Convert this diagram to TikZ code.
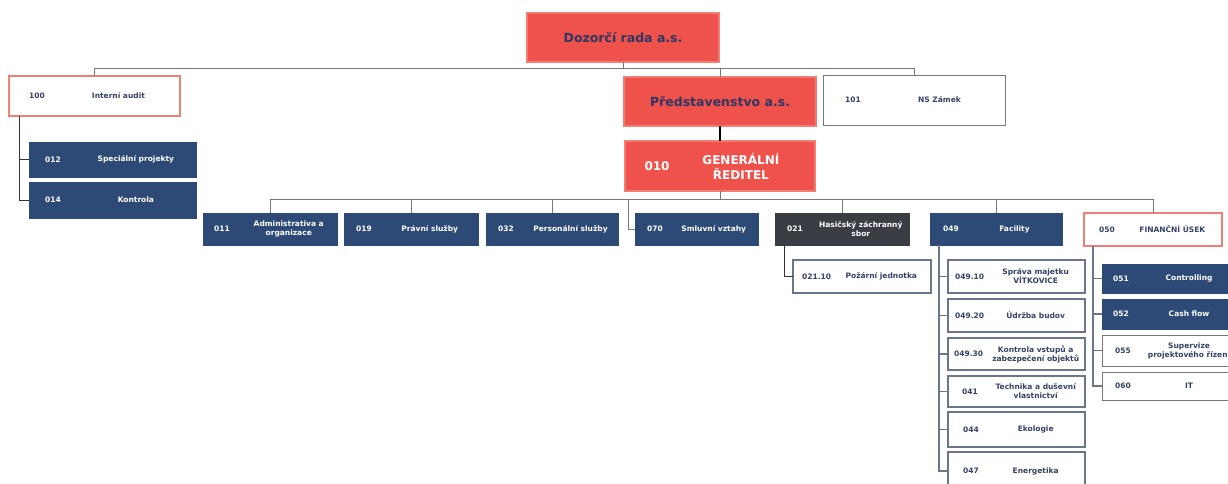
\documentclass[tikz,border=0pt]{standalone}
\usepackage{fontspec}
\setmainfont{DejaVu Sans}
\usetikzlibrary{calc}
\definecolor{cblue}{RGB}{44,74,117}
\definecolor{cgray}{RGB}{58,62,68}
\definecolor{cred}{RGB}{239,82,74}
\definecolor{credline}{RGB}{240,125,118}
\definecolor{ctext}{RGB}{52,66,100}
\definecolor{cline}{RGB}{120,120,120}
\definecolor{cbord}{RGB}{105,118,140}
\definecolor{cnavy}{RGB}{45,55,100}
\tikzset{
  base/.style={rectangle, inner sep=0pt, outer sep=0pt},
  bluebox/.style={base, fill=cblue, draw=cblue},
  bluebox text/.style={inner sep=0pt, text=white, font=\bfseries\fontsize{7.5}{9}\selectfont},
  graybox/.style={base, fill=cgray, draw=cgray},
  graybox text/.style={bluebox text},
  whitebord/.style={base, fill=white, draw=cbord, line width=1.5pt},
  whitebord text/.style={inner sep=0pt, text=ctext, font=\bfseries\fontsize{7.5}{9}\selectfont},
  whitegray/.style={base, fill=white, draw=cline, line width=1pt},
  whitegray text/.style={whitebord text},
  redwhite/.style={base, fill=white, draw=credline, line width=1.4pt},
  redwhite text/.style={whitebord text},
  redtop/.style={base, fill=cred, draw=credline, line width=1.4pt},
  toptext/.style={text=cnavy, font=\bfseries\fontsize{12.5}{14}\selectfont},
  conn/.style={draw=cline, line width=0.9pt},
  connk/.style={draw=black!80, line width=1pt},
  connb/.style={draw=cbord, line width=1.3pt},
}
\newcommand\obox[9]{%
  \node[#2, minimum width={(#5-#3)*1pt}, minimum height={(#6-#4)*1pt}] (#1) at ({(#3+#5)/2},{(#4+#6)/2}) {};
  \node[anchor=west, #2 text] (#1-num) at ([xshift=#7pt]#1.west) {#8};
  \node[#2 text, align=center] (#1-lbl) at ($(#1.west)!0.64!(#1.east)$) {#9};
}
\begin{document}
\begin{tikzpicture}[x=1pt,y=-1pt]
\clip (0,0) rectangle (1228,483);
\fill[white] (0,0) rectangle (1228,483);

% top level
\node[redtop, minimum width=192pt, minimum height=49pt] (dozor) at (623,37.5) {};
\node[toptext] (dozor-lbl) at (dozor.center) {Dozorčí rada a.s.};
\node[redtop, minimum width=192pt, minimum height=49pt] (pres) at (720,101.5) {};
\node[toptext] (pres-lbl) at (pres.center) {Představenstvo a.s.};
\node[redtop, minimum width=190pt, minimum height=50pt] (gr) at (720,166) {};
\node[anchor=west, text=white, font=\bfseries\fontsize{12}{14}\selectfont] (gr-num) at ([xshift=16pt]gr.west) {010};
\node[align=center, text=white, font=\bfseries\fontsize{12}{15}\selectfont] (gr-lbl) at ($(gr.west)!0.61!(gr.east)$) {GENERÁLNÍ\\ŘEDITEL};

\obox{audit}{redwhite}{9}{76}{180}{116}{20}{100}{Interní audit}
\obox{ns}{whitegray}{823}{75}{1005}{125}{22}{101}{NS Zámek}

% audit children
\obox{n012}{bluebox}{29}{142}{196}{177}{16}{012}{Speciální projekty}
\obox{n014}{bluebox}{29}{182}{196}{218}{16}{014}{Kontrola}

% level 2
\obox{n011}{bluebox}{203}{213}{337}{245}{11}{011}{Administrativa a\\organizace}
\obox{n019}{bluebox}{344}{213}{478}{245}{12}{019}{Právní služby}
\obox{n032}{bluebox}{486}{213}{618}{245}{12}{032}{Personální služby}
\obox{n070}{bluebox}{635}{213}{758}{245}{12}{070}{Smluvní vztahy}
\obox{n021}{graybox}{775}{213}{909}{245}{12}{021}{Hasičský záchranný\\sbor}
\obox{n049}{bluebox}{930}{213}{1062}{245}{13}{049}{Facility}
\obox{n050}{redwhite}{1084}{213}{1222}{246}{15}{050}{FINANČNÍ ÚSEK}

% 021 child
\obox{n02110}{whitebord}{793}{260}{931}{293}{9}{021.10}{Požární jednotka}

% facility children
\obox{n04910}{whitebord}{948}{260}{1085}{293}{7}{049.10}{Správa majetku\\VÍTKOVICE}
\obox{n04920}{whitebord}{948}{299}{1085}{332}{7}{049.20}{Údržba budov}
\obox{n04930}{whitebord}{948}{338}{1085}{370}{6}{049.30}{Kontrola vstupů a\\zabezpečení objektů}
\obox{n041}{whitebord}{948}{376}{1085}{407}{14}{041}{Technika a duševní\\vlastnictví}
\obox{n044}{whitebord}{948}{412}{1085}{447}{15}{044}{Ekologie}
\obox{n047}{whitebord}{948}{452}{1085}{490}{15}{047}{Energetika}

% finance children
\obox{n051}{bluebox}{1102}{264}{1238}{293}{11}{051}{Controlling}
\obox{n052}{bluebox}{1102}{299}{1238}{329}{11}{052}{Cash flow}
\obox{n055}{whitegray}{1102}{335}{1238}{366}{13}{055}{Supervize\\projektového řízení}
\obox{n060}{whitegray}{1102}{372}{1238}{400}{13}{060}{IT}

% connectors: top bus
\coordinate (busy) at (0,68);
\draw[conn] (dozor.south) -- (dozor.south |- busy);
\draw[conn] (audit.north) -- (audit.north |- busy) -- (ns.north |- busy) -- (ns.north);
\draw[conn] (pres.north) -- (pres.north |- busy);
\draw[black, line width=2pt] (pres.south) -- (gr.north);

% GŘ bus
\coordinate (bustwo) at (0,199);
\draw[conn] (gr.south) -- (gr.south |- bustwo);
\draw[conn] (n011.north) -- (n011.north |- bustwo) -- (n050.north |- bustwo) -- (n050.north);
\foreach \n in {n019,n032,n021,n049} \draw[conn] (\n.north) -- (\n.north |- bustwo);
\coordinate (e070) at (628,199);
\draw[conn] (e070) |- (n070.west);

% audit stem
\coordinate (astem) at ([xshift=10pt]audit.south west);
\draw[connk] (astem) |- (n012.west);
\draw[connk] (astem) |- (n014.west);

% 021 stem
\coordinate (hstem) at ([xshift=9pt]n021.south west);
\draw[connk] (hstem) |- (n02110.west);

% facility stem
\coordinate (fstem) at ([xshift=9pt]n049.south west);
\foreach \n in {n04910,n04920,n04930,n041,n044,n047} \draw[connb] (fstem) |- (\n.west);

% finance stem
\coordinate (kstem) at ([xshift=9pt]n050.south west);
\foreach \n in {n051,n052,n055,n060} \draw[connb] (kstem) |- (\n.west);
\end{tikzpicture}
\end{document}
